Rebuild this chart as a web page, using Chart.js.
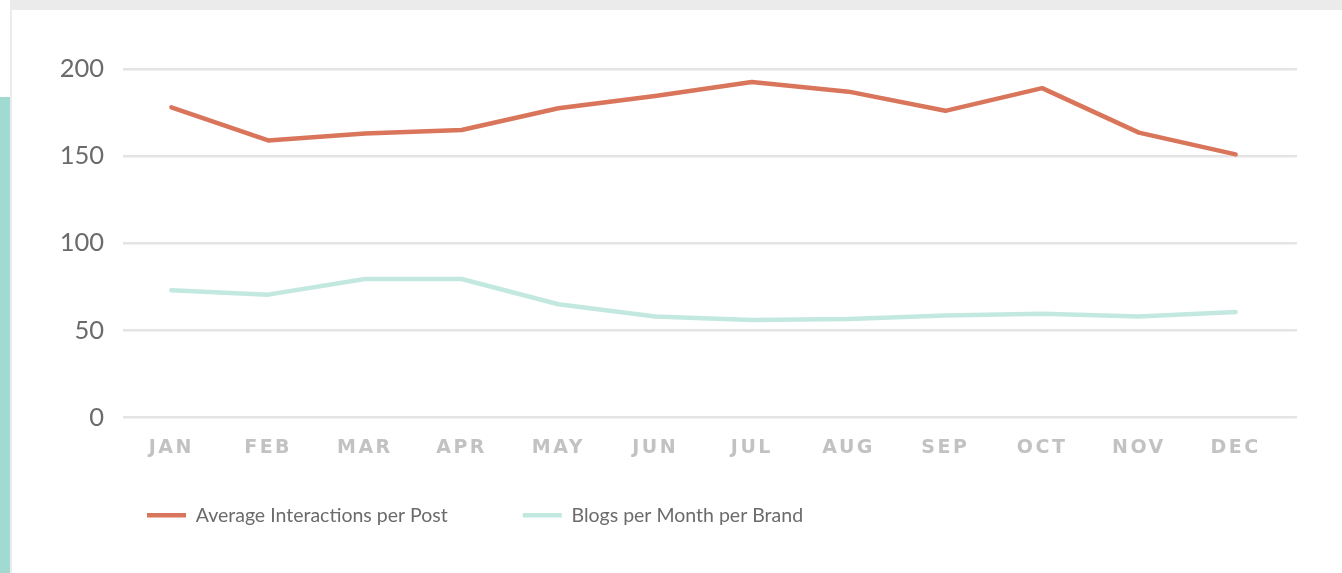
<!DOCTYPE html>
<html>
<head>
<meta charset="utf-8">
<script src="https://cdn.jsdelivr.net/npm/chart.js@4/dist/chart.umd.min.js"></script>
<style>
  html, body { margin: 0; padding: 0; background: #ffffff; width: 1342px; height: 573px; overflow: hidden; }
  #topband { position: absolute; left: 10px; top: 0; width: 1332px; height: 10px; background: #ebebeb; }
  #leftline { position: absolute; left: 10px; top: 0; width: 2px; height: 573px; background: #ebebeb; }
  #tealstrip { position: absolute; left: 0; top: 97px; width: 10px; height: 476px; background: #a1dad1; }
  #wrap { position: absolute; left: 12px; top: 10px; width: 1330px; height: 563px; }
</style>
</head>
<body>
<div id="topband"></div>
<div id="leftline"></div>
<div id="tealstrip"></div>
<div id="wrap"><canvas id="c" width="1330" height="563"></canvas></div>
<script>
const months = ['JAN','FEB','MAR','APR','MAY','JUN','JUL','AUG','SEP','OCT','NOV','DEC'];
const avgInteractions = [178, 159, 163, 165, 177.5, 184.5, 192.5, 187, 176, 189, 163.5, 151];
const blogsPerMonth = [73, 70.5, 79.5, 79.5, 65, 58, 56, 56.5, 58.5, 59.5, 58, 60.5];
const seriesNames = ['Average Interactions per Post', 'Blogs per Month per Brand'];
const yTicks = [0, 50, 100, 150, 200];

const gridColor = '#e4e4e4';

const labelPlugin = {
  id: 'labelTweaks',
  beforeDraw(chart) {
    const x = chart.scales.x, y = chart.scales.y;
    if (x && !x._patched) {
      x._computeLabelArea = () => undefined;
      const orig = x.drawLabels.bind(x);
      x.drawLabels = function (area) {
        const ctx = this.ctx;
        ctx.save();
        ctx.letterSpacing = '2.5px';
        orig(area);
        ctx.restore();
      };
      x._patched = true;
    }
    if (y && !y._patched) {
      y._computeLabelArea = () => undefined;
      y._patched = true;
    }
  }
};

new Chart(document.getElementById('c'), {
  type: 'line',
  data: {
    labels: months,
    datasets: [
      {
        label: seriesNames[0],
        data: avgInteractions,
        borderColor: '#d9755b',
        backgroundColor: '#d9755b',
        borderWidth: 4.5,
        borderCapStyle: 'round',
        borderJoinStyle: 'round',
        pointRadius: 0,
        tension: 0,
        fill: false
      },
      {
        label: seriesNames[1],
        data: blogsPerMonth,
        borderColor: '#c3e8e0',
        backgroundColor: '#c3e8e0',
        borderWidth: 4.5,
        borderCapStyle: 'round',
        borderJoinStyle: 'round',
        pointRadius: 0,
        tension: 0,
        fill: false
      }
    ]
  },
  options: {
    responsive: false,
    animation: false,
    devicePixelRatio: 1,
    layout: { padding: { top: 59, right: 45, bottom: 38, left: 60 } },
    plugins: {
      tooltip: { enabled: false },
      legend: {
        position: 'bottom',
        align: 'start',
        labels: {
          usePointStyle: true,
          pointStyle: 'line',
          pointStyleWidth: 39,
          boxWidth: 39,
          padding: 75,
          color: '#6b6b6b',
          font: { family: 'Lato', size: 19.5 }
        }
      }
    },
    scales: {
      x: {
        offset: true,
        grid: { display: false, drawTicks: false },
        border: { display: false },
        ticks: {
          color: '#c2c2c2',
          padding: 19,
          autoSkip: false,
          maxRotation: 0,
          font: { family: 'DejaVu Sans', size: 19, weight: 'bold' }
        },
        afterFit(scale) { scale.height = 13; }
      },
      y: {
        min: 0,
        max: 200,
        afterBuildTicks(scale) { scale.ticks = yTicks.map(v => ({ value: v })); },
        grid: { color: gridColor, lineWidth: 2.5, drawTicks: false },
        border: { display: false },
        ticks: {
          color: '#6b6b6b',
          padding: 19,
          font: { family: 'Lato', size: 25.5 }
        },
        afterFit(scale) { scale.width = 51; }
      },
      yRight: {
        position: 'right',
        min: 0,
        max: 200,
        afterBuildTicks(scale) { scale.ticks = yTicks.map(v => ({ value: v })); },
        grid: { color: gridColor, lineWidth: 2.5, drawOnChartArea: false, drawTicks: true, tickLength: 13 },
        border: { display: false },
        ticks: { display: false },
        afterFit(scale) { scale.width = 13; }
      }
    }
  },
  plugins: [labelPlugin]
});
</script>
</body>
</html>
